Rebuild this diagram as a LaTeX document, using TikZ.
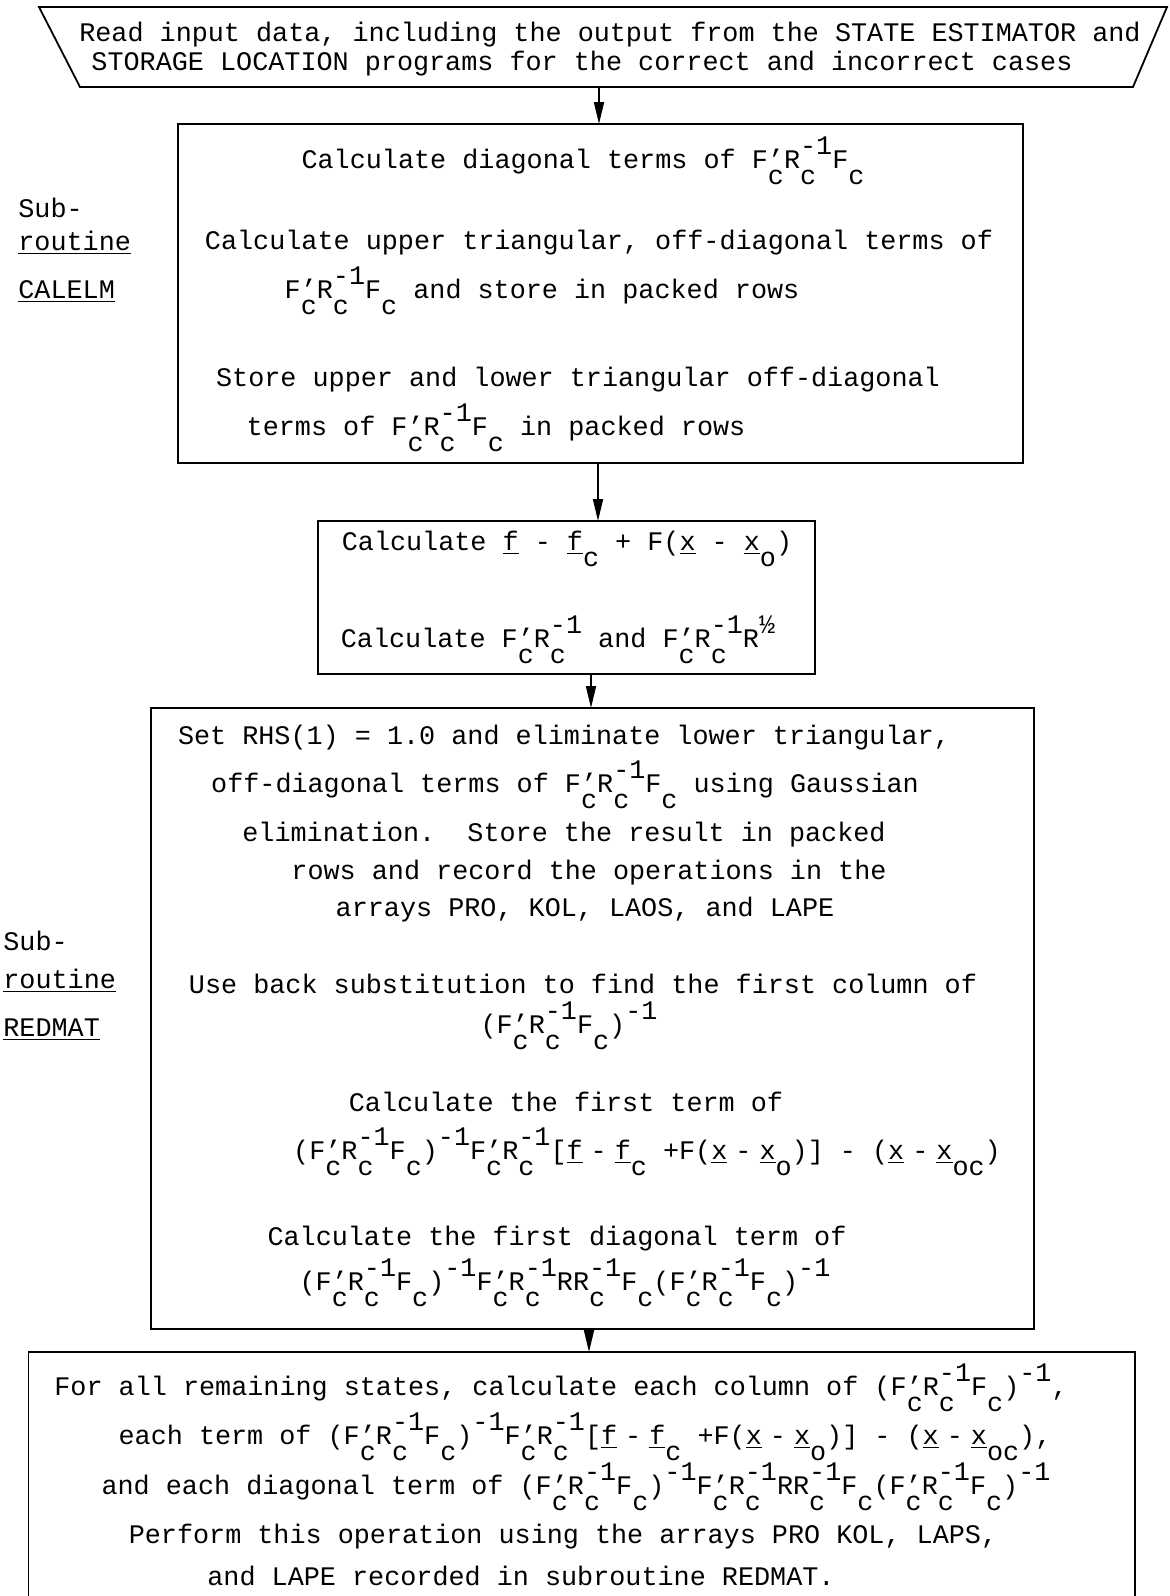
\documentclass[tikz,border=0pt]{standalone}
\usepackage{fontspec}
\setmainfont{Liberation Mono}
\usetikzlibrary{arrows.meta}
% typewriter style sub/superscripts
\newcommand{\dn}[1]{\raisebox{-0.62em}{#1}}
\newcommand{\up}[1]{\raisebox{0.5em}{#1}}
\newcommand{\pc}{\rlap{’}\dn{c}}
\newcommand{\ic}{\rlap{\up{-1}}\dn{c}\hphantom{1}}
\newcommand{\FRF}{F\pc R\ic F\dn{c}}
\newcommand{\ul}[1]{\underline{#1}}
\newcommand{\ms}{\hspace{0.3em}-\hspace{0.3em}}
\tikzset{
  box/.style={draw, line width=0.9pt, inner sep=0pt, outer sep=0pt},
  line/.style={anchor=mid, inner sep=0pt},
  side/.style={anchor=mid west, inner sep=0pt},
  arrow/.style={-{Triangle[length=11pt, width=5pt]}, line width=0.9pt},
  every node/.style={font=\fontsize{13.4}{16}\selectfont}
}

\begin{document}
\begin{tikzpicture}[x=0.5pt, y=-0.5pt]
    \useasboundingbox (0,0) rectangle (1169,1596);

    % input
    \coordinate (intl) at (39,7);
    \coordinate (inbl) at (80,87);
    \coordinate (inbr) at (1133,87);
    \coordinate (intr) at (1167,7);
    \draw[line width=0.9pt] (intl) -- (inbl) -- (inbr) -- (intr) -- cycle;
    \node[line] (in1) at (610,36) {Read input data, including the output from the STATE ESTIMATOR and};
    \node[line] (in2) at (582,65) {STORAGE LOCATION programs for the correct and incorrect cases};
    \coordinate (inout) at (599,87);

    % CALELM
    \node[box, minimum width=422.5pt, minimum height=169.5pt] (calelm) at (600.5,293.5) {};
    \node[line] (c1) at (583,163) {Calculate diagonal terms of \FRF};
    \node[line] (c2) at (599,244) {Calculate upper triangular, off-diagonal terms of};
    \node[line] (c3) at (542,293) {\FRF{} and store in packed rows};
    \node[line] (c4) at (578,381) {Store upper and lower triangular off-diagonal};
    \node[line] (c5) at (496,430) {terms of \FRF{} in packed rows};

    \node[side] (s1) at (18,212) {Sub-};
    \node[side] (s2) at (18,245) {\ul{routine}};
    \node[side] (s3) at (18,293) {\ul{CALELM}};

    % residual
    \node[box, minimum width=248.5pt, minimum height=76.5pt] (resid) at (566.5,597.5) {};
    \node[line] (r1) at (567,545) {Calculate \ul{f} - \ul{f}\dn{c} + F(\ul{x} - \ul{x}\dn{o})};
    \node[line] (r2) at (558,642) {Calculate F\pc R\ic{} and F\pc R\ic R\up{½}};

    % REDMAT
    \node[box, minimum width=441.5pt, minimum height=310.5pt] (redmat) at (592.5,1018.5) {};
    \node[line] (m1) at (564,739) {Set RHS(1) = 1.0 and eliminate lower triangular,};
    \node[line] (m2) at (565,787) {off-diagonal terms of \FRF{} using Gaussian};
    \node[line] (m3) at (564,836) {elimination.\ \ Store the result in packed};
    \node[line] (m4) at (589,874) {rows and record the operations in the};
    \node[line] (m5) at (585,911) {arrays PRO, KOL, LAOS, and LAPE};
    \node[line] (m6) at (583,988) {Use back substitution to find the first column of};
    \node[line] (m7) at (569,1028) {(\FRF)\up{-1}};
    \node[line] (m8) at (566,1106) {Calculate the first term of};
    \node[line] (m9) at (647,1154) {(\FRF)\up{-1}F\pc R\ic[\ul{f}\ms\ul{f}\dn{c} +F(\ul{x}\ms\ul{x}\dn{o})] - (\ul{x}\ms\ul{x}\dn{oc})};
    \node[line] (m10) at (557,1240) {Calculate the first diagonal term of};
    \node[line] (m11) at (565,1285) {(\FRF)\up{-1}F\pc R\ic RR\ic F\dn{c}(\FRF)\up{-1}};

    \node[side] (t1) at (3,945) {Sub-};
    \node[side] (t2) at (3,983) {\ul{routine}};
    \node[side] (t3) at (3,1031) {\ul{REDMAT}};

    % remaining states
    \coordinate (fintop) at (589,1352);
    \draw[line width=0.9pt] (28.5,1596) |- (1135,1352) -- (1135,1596);
    \node[line] (f1) at (561,1390) {For all remaining states, calculate each column of (\FRF)\up{-1},};
    \node[line] (f2) at (585,1439) {each term of (\FRF)\up{-1}F\pc R\ic[\ul{f}\ms\ul{f}\dn{c} +F(\ul{x}\ms\ul{x}\dn{o})] - (\ul{x}\ms\ul{x}\dn{oc}),};
    \node[line] (f3) at (576,1489) {and each diagonal term of (\FRF)\up{-1}F\pc R\ic RR\ic F\dn{c}(\FRF)\up{-1}};
    \node[line] (f4) at (563,1538) {Perform this operation using the arrays PRO KOL, LAPS,};
    \node[line] (f5) at (521,1580) {and LAPE recorded in subroutine REDMAT.};

    \draw[arrow] (inout) -- (inout |- calelm.north);
    \draw[arrow] (calelm.south -| 598,0) -- (resid.north -| 598,0);
    \draw[arrow] (resid.south -| 591,0) -- (redmat.north -| 591,0);
    \draw[arrow] (redmat.south -| fintop) -- (fintop);
\end{tikzpicture}
\end{document}
